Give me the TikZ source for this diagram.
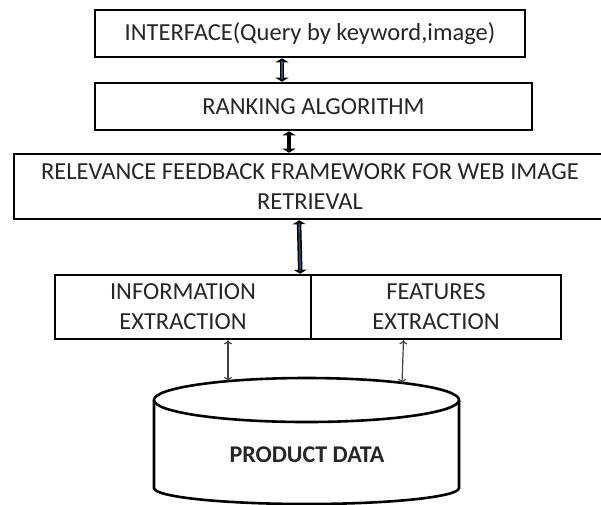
\documentclass[tikz,border=0pt]{standalone}
\usepackage{fontspec}
\setmainfont{Carlito}
\usetikzlibrary{positioning,arrows.meta}
\definecolor{arrowblue}{RGB}{45,75,120}

\begin{document}
\begin{tikzpicture}
      [
        x=1pt, y=-1pt,
        boxb/.style={rectangle, draw=black, line width=2.6pt, inner sep=0pt, align=center,
                     text=black!85, font=\fontsize{24.5}{30}\selectfont},
        bigarr/.style={draw=black, line width=4.5pt,
                     {Triangle[width=13pt,length=4pt]}-{Triangle[width=13pt,length=4pt]}},
        bluearr/.style={bigarr, postaction={draw=arrowblue, line width=1.6pt, arrows=-,
                     shorten <=3pt, shorten >=3pt}},
        thinarr/.style={draw=black!75, line width=1.2pt, {To[length=4pt,width=8pt]}-{To[length=4pt,width=8pt]}},
        dbline/.style={draw=black, line width=2.6pt}
      ]
      \useasboundingbox (0,0) rectangle (601,504);
      \node[boxb, minimum width=430pt, minimum height=47pt] (iface) at (310,33.5) {INTERFACE(Query by keyword,image)};
      \node[boxb, minimum width=437pt, minimum height=47pt] (rank) at (313.5,106.5) {RANKING ALGORITHM};
      \node[boxb, minimum width=592pt, minimum height=65pt] (rf) at (310,186.5) {RELEVANCE FEEDBACK FRAMEWORK FOR WEB IMAGE\\RETRIEVAL};
      \node[boxb, minimum width=256pt, minimum height=64pt] (info) at (183,307) {INFORMATION\\EXTRACTION};
      \node[boxb, minimum width=250pt, minimum height=64pt] (feat) [right=-2.6pt of info] {FEATURES\\EXTRACTION};
      % product data store
      \draw[dbline] (154,400) -- (154,488) arc[start angle=180, end angle=0, x radius=152.5, y radius=16] -- (459,400);
      \draw[dbline, fill=white] (306.5,400) ellipse [x radius=152.5, y radius=22];
      \node[font=\bfseries\fontsize{24}{28}\selectfont, text=black!85] (db) at (307,455) {PRODUCT DATA};
      \coordinate (dbl) at (228,381);
      \coordinate (dbr) at (402,383);
      \draw[bluearr] ([xshift=-28pt]iface.south) -- ([xshift=-31.5pt]rank.north);
      \draw[bigarr] ([xshift=-24.5pt]rank.south) -- ([xshift=-21pt]rf.north);
      \draw[bluearr] ([xshift=-11pt]rf.south) -- ([xshift=-12pt]info.north east);
      \draw[thinarr] ([xshift=45pt]info.south) -- (dbl);
      \draw[thinarr] ([xshift=-32.5pt]feat.south) -- (dbr);
    \end{tikzpicture}
\end{document}
